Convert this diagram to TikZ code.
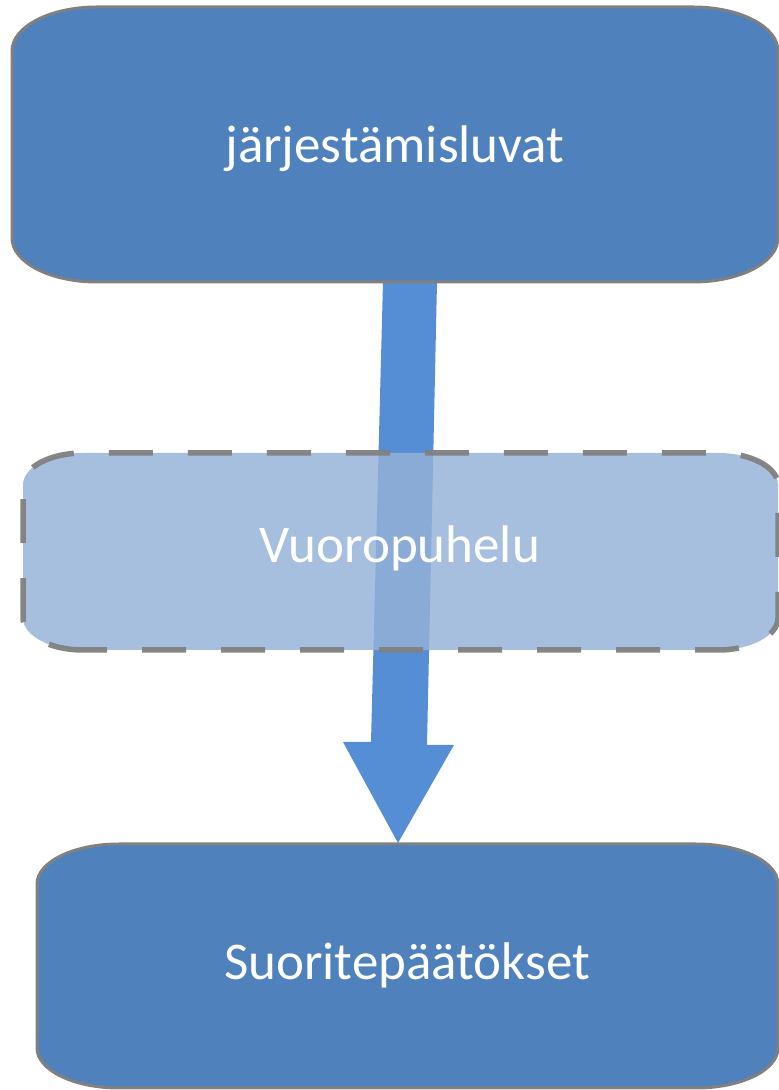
\documentclass[tikz,border=0pt]{standalone}
\usepackage{fontspec}
\setmainfont{Carlito}
\definecolor{boxblue}{HTML}{4F81BD}
\definecolor{arrowblue}{HTML}{558ED5}
\definecolor{lightbox}{RGB}{149,178,215}
\definecolor{edgegray}{HTML}{808080}
\tikzset{
  solidbox/.style={fill=boxblue, draw=edgegray, line width=3pt},
  dashbox/.style={fill=lightbox, fill opacity=0.83, draw=edgegray, draw opacity=0.95, line width=5.5pt, dash pattern=on 44pt off 35pt, dash phase=20pt},
  label/.style={text=white, font=\fontsize{53}{64}\selectfont, inner sep=0pt, anchor=base},
  bigarrow/.style={fill=arrowblue, draw=none}
}
% elliptical rounded rectangle: x1,y1 (lower left), x2,y2 (upper right), rx, ry
\newcommand{\ovalbox}[6]{%
  (#1+#5,#2) -- (#3-#5,#2) arc[start angle=-90,end angle=0,x radius=#5,y radius=#6]
  -- (#3,#4-#6) arc[start angle=0,end angle=90,x radius=#5,y radius=#6]
  -- (#1+#5,#4) arc[start angle=90,end angle=180,x radius=#5,y radius=#6]
  -- (#1,#2+#6) arc[start angle=180,end angle=270,x radius=#5,y radius=#6] -- cycle}
\begin{document}
\begin{tikzpicture}[x=1pt,y=1pt]
\useasboundingbox (0,0) rectangle (779,1090);
% arrow (behind boxes)
\coordinate (aTL) at (383,808);
\coordinate (aTR) at (437,808);
\coordinate (aSR) at (427,345);
\coordinate (aHR) at (454,345);
\coordinate (tip) at (398,247);
\coordinate (aHL) at (343,348);
\coordinate (aSL) at (371,348);
\fill[bigarrow] (aTL) -- (aTR) -- (aSR) -- (aHR) -- (tip) -- (aHL) -- (aSL) -- cycle;
% top box
\draw[solidbox] \ovalbox{12}{808}{778}{1083}{85}{44};
% middle dashed box
\draw[dashbox] \ovalbox{23}{440}{778}{637}{60}{32};
% bottom box
\draw[solidbox] \ovalbox{37}{2}{778}{246}{82}{40};
\node[label] (n1) at (395,927) {järjestämisluvat};
\node[label] (n2) at (400,527) {Vuoropuhelu};
\node[label] (n3) at (407,110) {Suoritepäätökset};
\end{tikzpicture}
\end{document}
